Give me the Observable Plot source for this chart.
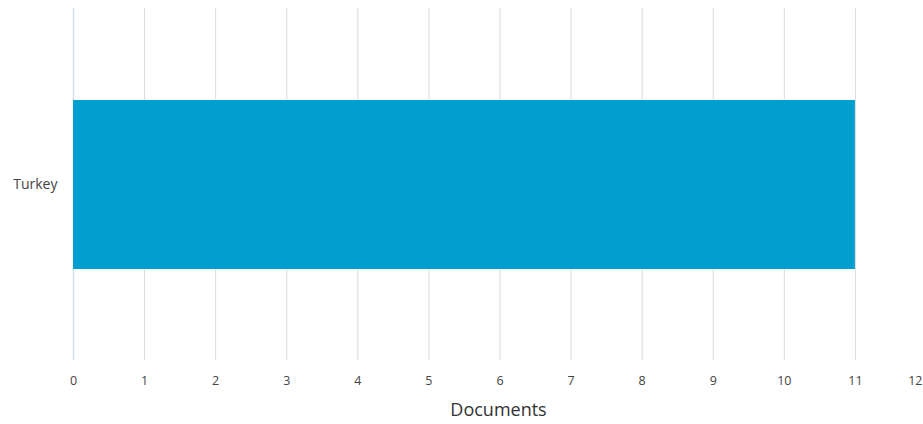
<!DOCTYPE html>
<html>
<head>
<meta charset="utf-8">
<script src="https://cdn.jsdelivr.net/npm/d3@7"></script>
<script src="https://cdn.jsdelivr.net/npm/@observablehq/plot@0.6"></script>
<style>
  html, body { margin: 0; padding: 0; background: #fff; }
  #chart svg { display: block; }
</style>
</head>
<body>
<div id="chart"></div>
<script>
const countries = ["Turkey"];
const documents = [11];
const xTicks = [0, 1, 2, 3, 4, 5, 6, 7, 8, 9, 10, 11, 12];
const xLabel = "Documents";

const data = countries.map((c, i) => ({country: c, value: documents[i]}));
const lastTick = xTicks[xTicks.length - 1];

const chart = Plot.plot({
  width: 923,
  height: 424,
  marginTop: 8,
  marginBottom: 64,
  marginLeft: 73,
  marginRight: 0,
  style: {fontFamily: "'Open Sans', sans-serif", fontSize: "12px", color: "#444", background: "#fff"},
  x: {domain: [0, 12], range: [73, 926]},
  y: {domain: countries, padding: 0.35},
  marks: [
    Plot.gridX(xTicks.filter(d => d !== 0), {stroke: "#dcdcdc", strokeOpacity: 1}),
    Plot.ruleX([0], {stroke: "#d5deea", strokeWidth: 1.5}),
    Plot.barX(data, {x: "value", y: "country", fill: "#009fcf"}),
    Plot.axisX(xTicks.slice(0, -1), {tickSize: 0, tickPadding: 16, fontSize: 12.5, fill: "#444", label: null}),
    Plot.text([lastTick], {x: d => d, frameAnchor: "bottom", dy: 24, textAnchor: "end", dx: -4, text: d => String(d), fontSize: 12.5, fill: "#444"}),
    Plot.axisY({tickSize: 0, tickPadding: 16, fontSize: 14, fill: "#444", label: null}),
    Plot.text([xLabel], {frameAnchor: "bottom", x: null, dy: 55, text: d => d, fontSize: 18, fill: "#333"})
  ]
});
document.getElementById("chart").appendChild(chart);
</script>
</body>
</html>
